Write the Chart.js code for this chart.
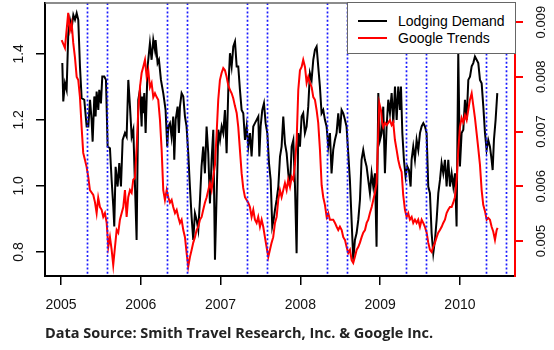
<!DOCTYPE html>
<html>
<head>
<meta charset="utf-8">
<script src="https://cdn.jsdelivr.net/npm/chart.js@4.4.0/dist/chart.umd.min.js"></script>
<style>
  body { margin: 0; background: #fff; }
  #wrap { position: relative; width: 554px; height: 350px; }
  #legend { position: absolute; left: 347px; top: 2px; width: 167px; height: 50px; background: #fff; border: 1px solid #666; font: 14px "Liberation Sans", Arial, sans-serif; color: #000; }
  #legend .swatch { position: absolute; left: 10px; width: 29px; height: 2px; }
  #legend .label { position: absolute; left: 50px; line-height: 16px; white-space: nowrap; }
  #caption { position: absolute; left: 45px; top: 324px; font: bold 14.5px "Open Sans", sans-serif; line-height: 18px; color: #222; white-space: nowrap; }
</style>
</head>
<body>
<div id="wrap">
  <canvas id="chart" width="554" height="350"></canvas>
  <div id="legend">
    <span class="swatch" style="top:17px;background:#000"></span><span class="label" style="top:10px">Lodging Demand</span>
    <span class="swatch" style="top:34px;background:#ff0000"></span><span class="label" style="top:27px">Google Trends</span>
  </div>
  <div id="caption">Data Source: Smith Travel Research, Inc. &amp; Google Inc.</div>
</div>
<script>
// Lodging demand (left axis), traced from the weekly series
const lodgingYears = [
  2005.017, 2005.029, 2005.050, 2005.071, 2005.092, 2005.113, 2005.134, 2005.155, 2005.176, 2005.197,
  2005.217, 2005.238, 2005.259, 2005.292, 2005.322, 2005.343, 2005.364, 2005.384, 2005.397, 2005.418,
  2005.434, 2005.447, 2005.468, 2005.480, 2005.501, 2005.518, 2005.543, 2005.564, 2005.585, 2005.614,
  2005.635, 2005.656, 2005.668, 2005.685, 2005.710, 2005.731, 2005.752, 2005.773, 2005.802, 2005.823,
  2005.844, 2005.865, 2005.886, 2005.907, 2005.928, 2005.948, 2005.969, 2005.990,
  2006.011, 2006.019, 2006.031, 2006.044, 2006.061, 2006.086, 2006.115, 2006.136, 2006.157, 2006.178,
  2006.186, 2006.211, 2006.228, 2006.253, 2006.282, 2006.311, 2006.332, 2006.345, 2006.366, 2006.386,
  2006.407, 2006.420, 2006.437, 2006.462, 2006.478, 2006.491, 2006.512, 2006.533, 2006.554, 2006.574,
  2006.595, 2006.616, 2006.637, 2006.658, 2006.679, 2006.700, 2006.721, 2006.742, 2006.762, 2006.783,
  2006.804, 2006.825, 2006.846, 2006.867, 2006.888, 2006.909, 2006.930, 2006.972, 2006.993,
  2007.014, 2007.034, 2007.055, 2007.076, 2007.097, 2007.118, 2007.139, 2007.160, 2007.181, 2007.202,
  2007.222, 2007.243, 2007.264, 2007.285, 2007.306, 2007.327, 2007.348, 2007.369, 2007.389, 2007.410,
  2007.431, 2007.452, 2007.473, 2007.486, 2007.502, 2007.523, 2007.544, 2007.565, 2007.586, 2007.607,
  2007.628, 2007.648, 2007.665, 2007.682, 2007.703, 2007.724, 2007.745, 2007.765, 2007.786, 2007.807,
  2007.828, 2007.849, 2007.870, 2007.891, 2007.912, 2007.933, 2007.953, 2007.974, 2007.995,
  2008.016, 2008.036, 2008.057, 2008.078, 2008.099, 2008.120, 2008.141, 2008.162, 2008.183, 2008.204,
  2008.224, 2008.245, 2008.266, 2008.287, 2008.308, 2008.329, 2008.350, 2008.371, 2008.391, 2008.412,
  2008.433, 2008.454, 2008.475, 2008.496, 2008.517, 2008.538, 2008.559, 2008.579, 2008.600, 2008.621,
  2008.642, 2008.663, 2008.684, 2008.705, 2008.726, 2008.747, 2008.767, 2008.788, 2008.809, 2008.830,
  2008.851, 2008.872, 2008.893, 2008.914, 2008.935, 2008.955, 2008.977, 2008.998,
  2009.019, 2009.039, 2009.060, 2009.081, 2009.102, 2009.123, 2009.144, 2009.165, 2009.186, 2009.207,
  2009.227, 2009.248, 2009.261, 2009.278, 2009.298, 2009.319, 2009.340, 2009.361, 2009.382, 2009.394,
  2009.415, 2009.436, 2009.457, 2009.478, 2009.499, 2009.520, 2009.541, 2009.562, 2009.582, 2009.603,
  2009.624, 2009.645, 2009.666, 2009.687, 2009.708, 2009.729, 2009.750, 2009.770, 2009.791, 2009.812,
  2009.833, 2009.854, 2009.875, 2009.896, 2009.917, 2009.938, 2009.958, 2009.979,
  2010.000, 2010.021, 2010.042, 2010.063, 2010.084, 2010.105, 2010.126, 2010.147, 2010.167, 2010.188,
  2010.209, 2010.230, 2010.251, 2010.272, 2010.293, 2010.314, 2010.334, 2010.355, 2010.376, 2010.397,
  2010.410, 2010.426, 2010.447, 2010.468
];
const lodgingValues = [
  1.372, 1.256, 1.311, 1.291, 1.463, 1.503, 1.478, 1.518, 1.503, 1.523,
  1.503, 1.362, 1.266, 1.261, 1.180, 1.180, 1.261, 1.200, 1.134, 1.271,
  1.210, 1.286, 1.230, 1.291, 1.250, 1.331, 1.331, 1.321, 1.119, 1.114,
  1.018, 0.937, 0.877, 1.058, 0.998, 1.069, 0.998, 1.139, 1.160, 1.149,
  1.321, 1.240, 1.149, 1.170, 0.998, 0.836, 1.261, 1.291,
  1.180, 1.271, 1.220, 1.281, 1.160, 1.362, 1.432, 1.382, 1.442, 1.412,
  1.442, 1.372, 1.382, 1.321, 1.281, 1.230, 1.119, 1.180, 1.190, 1.149,
  1.210, 1.079, 1.200, 1.240, 1.160, 1.240, 1.281, 1.271, 1.210, 1.180,
  1.099, 0.998, 0.907, 0.836, 0.917, 0.897, 0.867, 0.958, 1.059, 1.119,
  1.038, 1.180, 1.099, 0.947, 1.079, 1.170, 0.776, 1.170, 1.139,
  1.180, 1.160, 1.230, 1.099, 1.291, 1.402, 1.362, 1.422, 1.437, 1.362,
  1.362, 1.291, 1.230, 1.220, 1.139, 1.180, 1.119, 1.160, 1.089, 1.180,
  1.190, 1.200, 1.210, 1.089, 1.180, 1.230, 1.250, 1.190, 1.160, 1.069,
  1.018, 0.877, 0.897, 0.927, 0.958, 0.998, 1.089, 1.119, 1.210, 1.129,
  1.099, 1.038, 0.998, 1.119, 1.139, 0.998, 0.796, 1.160, 1.119,
  1.210, 1.220, 1.160, 1.180, 1.240, 1.341, 1.321, 1.382, 1.412, 1.422,
  1.362, 1.301, 1.220, 1.230, 1.200, 1.180, 1.119, 1.160, 1.038, 1.109,
  1.139, 1.160, 1.220, 1.160, 1.230, 1.220, 1.200, 1.180, 1.099, 1.018,
  0.897, 0.776, 0.836, 0.857, 0.897, 0.958, 1.079, 1.109, 1.079, 1.059,
  1.018, 0.978, 1.038, 0.998, 1.038, 0.816, 1.281, 1.139,
  1.160, 1.240, 1.038, 1.180, 1.261, 1.220, 1.281, 1.190, 1.301, 1.200,
  1.301, 1.230, 1.301, 1.160, 1.079, 1.028, 1.059, 1.048, 0.998, 1.079,
  1.119, 1.079, 1.139, 1.109, 1.160, 1.180, 1.190, 1.180, 1.160, 0.998,
  0.978, 0.857, 0.796, 0.836, 0.897, 0.978, 1.018, 1.069, 1.038, 1.079,
  0.998, 1.079, 0.998, 1.038, 0.998, 1.038, 0.877, 1.403,
  1.059, 1.160, 1.170, 1.261, 1.200, 1.321, 1.331, 1.362, 1.372, 1.392,
  1.382, 1.372, 1.321, 1.311, 1.240, 1.160, 1.109, 1.139, 1.119, 1.079,
  1.048, 1.139, 1.200, 1.281
];

// Google Trends (right axis)
const googleYears = [
  2005.009, 2005.050, 2005.091, 2005.113, 2005.134, 2005.154, 2005.175, 2005.197, 2005.217, 2005.238,
  2005.259, 2005.279, 2005.301, 2005.322, 2005.342, 2005.363, 2005.405, 2005.426, 2005.447, 2005.467,
  2005.489, 2005.510, 2005.530, 2005.551, 2005.573, 2005.593, 2005.614, 2005.635, 2005.655, 2005.677,
  2005.698, 2005.718, 2005.739, 2005.761, 2005.781, 2005.802, 2005.823, 2005.843, 2005.865, 2005.886,
  2005.906, 2005.927, 2005.949, 2005.969, 2005.990,
  2006.011, 2006.031, 2006.053, 2006.074, 2006.094, 2006.115, 2006.136, 2006.157, 2006.178, 2006.199,
  2006.219, 2006.241, 2006.262, 2006.282, 2006.303, 2006.325, 2006.345, 2006.366, 2006.387, 2006.407,
  2006.429, 2006.450, 2006.470, 2006.491, 2006.512, 2006.533, 2006.554, 2006.575, 2006.595, 2006.617,
  2006.638, 2006.658, 2006.679, 2006.700, 2006.721, 2006.742, 2006.763, 2006.783, 2006.804, 2006.826,
  2006.846, 2006.867, 2006.888, 2006.908, 2006.930, 2006.951, 2006.971, 2006.992,
  2007.013, 2007.034, 2007.055, 2007.076, 2007.096, 2007.118, 2007.139, 2007.159, 2007.180, 2007.202,
  2007.222, 2007.243, 2007.264, 2007.284, 2007.306, 2007.327, 2007.347, 2007.368, 2007.389, 2007.410,
  2007.431, 2007.452, 2007.472, 2007.494, 2007.515, 2007.535, 2007.556, 2007.577, 2007.598, 2007.619,
  2007.640, 2007.660, 2007.682, 2007.703, 2007.723, 2007.744, 2007.765, 2007.786, 2007.807, 2007.828,
  2007.848, 2007.870, 2007.891, 2007.911, 2007.932, 2007.954, 2007.974, 2007.995,
  2008.016, 2008.036, 2008.058, 2008.079, 2008.099, 2008.120, 2008.142, 2008.162, 2008.183, 2008.204,
  2008.224, 2008.246, 2008.267, 2008.287, 2008.308, 2008.330, 2008.350, 2008.371, 2008.412, 2008.434,
  2008.455, 2008.475, 2008.496, 2008.518, 2008.538, 2008.559, 2008.580, 2008.600, 2008.622, 2008.643,
  2008.663, 2008.684, 2008.706, 2008.726, 2008.747, 2008.768, 2008.788, 2008.810, 2008.831, 2008.851,
  2008.872, 2008.894, 2008.914, 2008.935, 2008.956, 2008.976, 2008.989,
  2009.010, 2009.026, 2009.039, 2009.060, 2009.081, 2009.101, 2009.123, 2009.144, 2009.164, 2009.185,
  2009.207, 2009.227, 2009.248, 2009.269, 2009.289, 2009.311, 2009.332, 2009.352, 2009.373, 2009.395,
  2009.415, 2009.436, 2009.457, 2009.477, 2009.499, 2009.520, 2009.540, 2009.561, 2009.583, 2009.603,
  2009.624, 2009.645, 2009.665, 2009.687, 2009.708, 2009.728, 2009.749, 2009.771, 2009.791, 2009.812,
  2009.833, 2009.853, 2009.875, 2009.896, 2009.916, 2009.937, 2009.959, 2009.979,
  2010.000, 2010.021, 2010.041, 2010.063, 2010.084, 2010.104, 2010.125, 2010.147, 2010.167, 2010.188,
  2010.209, 2010.229, 2010.251, 2010.272, 2010.292, 2010.313, 2010.335, 2010.355, 2010.376, 2010.397,
  2010.418, 2010.439, 2010.460, 2010.472
];
const googleValues = [
  0.00867, 0.00853, 0.00917, 0.00885, 0.00898, 0.00862, 0.00836, 0.00800, 0.00794, 0.00763,
  0.00708, 0.00661, 0.00648, 0.00635, 0.00617, 0.00593, 0.00584, 0.00571, 0.00551, 0.00579,
  0.00562, 0.00557, 0.00544, 0.00551, 0.00533, 0.00489, 0.00507, 0.00484, 0.00456, 0.00489,
  0.00520, 0.00515, 0.00539, 0.00551, 0.00562, 0.00593, 0.00544, 0.00580, 0.00593, 0.00588,
  0.00612, 0.00615, 0.00672, 0.00739, 0.00781,
  0.00807, 0.00818, 0.00831, 0.00800, 0.00812, 0.00781, 0.00789, 0.00763, 0.00770, 0.00763,
  0.00758, 0.00721, 0.00666, 0.00593, 0.00575, 0.00593, 0.00580, 0.00570, 0.00575, 0.00562,
  0.00551, 0.00557, 0.00544, 0.00533, 0.00539, 0.00520, 0.00507, 0.00478, 0.00453, 0.00471,
  0.00484, 0.00497, 0.00507, 0.00520, 0.00526, 0.00539, 0.00544, 0.00557, 0.00570, 0.00580,
  0.00593, 0.00606, 0.00593, 0.00617, 0.00639, 0.00697, 0.00758, 0.00794,
  0.00807, 0.00816, 0.00812, 0.00800, 0.00785, 0.00776, 0.00770, 0.00761, 0.00747, 0.00734,
  0.00708, 0.00666, 0.00624, 0.00597, 0.00580, 0.00575, 0.00570, 0.00562, 0.00544, 0.00557,
  0.00539, 0.00533, 0.00544, 0.00526, 0.00539, 0.00526, 0.00507, 0.00489, 0.00471, 0.00484,
  0.00497, 0.00507, 0.00533, 0.00544, 0.00575, 0.00593, 0.00580, 0.00593, 0.00606, 0.00593,
  0.00612, 0.00599, 0.00617, 0.00612, 0.00639, 0.00685, 0.00776, 0.00812,
  0.00818, 0.00831, 0.00818, 0.00789, 0.00800, 0.00789, 0.00781, 0.00763, 0.00758, 0.00739,
  0.00716, 0.00666, 0.00602, 0.00580, 0.00566, 0.00544, 0.00551, 0.00539, 0.00539, 0.00533,
  0.00526, 0.00520, 0.00526, 0.00520, 0.00507, 0.00502, 0.00489, 0.00478, 0.00484, 0.00465,
  0.00460, 0.00471, 0.00484, 0.00489, 0.00497, 0.00507, 0.00515, 0.00520, 0.00533, 0.00539,
  0.00551, 0.00562, 0.00575, 0.00588, 0.00606, 0.00697, 0.00752,
  0.00739, 0.00716, 0.00708, 0.00716, 0.00712, 0.00716, 0.00721, 0.00712, 0.00717, 0.00685,
  0.00666, 0.00648, 0.00635, 0.00626, 0.00584, 0.00557, 0.00544, 0.00551, 0.00539, 0.00544,
  0.00533, 0.00539, 0.00533, 0.00539, 0.00526, 0.00539, 0.00533, 0.00526, 0.00515, 0.00497,
  0.00484, 0.00480, 0.00489, 0.00497, 0.00507, 0.00515, 0.00520, 0.00526, 0.00533, 0.00539,
  0.00551, 0.00557, 0.00562, 0.00562, 0.00570, 0.00580, 0.00612, 0.00666,
  0.00708, 0.00725, 0.00717, 0.00730, 0.00721, 0.00739, 0.00758, 0.00770, 0.00748, 0.00725,
  0.00697, 0.00670, 0.00639, 0.00593, 0.00566, 0.00555, 0.00539, 0.00542, 0.00539, 0.00526,
  0.00517, 0.00502, 0.00520, 0.00524
];

const yearTicks = [2005, 2006, 2007, 2008, 2009, 2010];
const demandTicks = [0.8, 1.0, 1.2, 1.4];
const trendTicks = [0.005, 0.006, 0.007, 0.008, 0.009];
// dotted markers, roughly 1 May and 1 Aug each year
const seasonMarks = [2005.33, 2005.58, 2006.33, 2006.58, 2007.33, 2007.58, 2008.33, 2008.58, 2009.33, 2009.58, 2010.33, 2010.58];

const axisFont = '"Liberation Sans", Arial, sans-serif';

const frame = {
    id: 'frame',
    afterDatasetsDraw(chart) {
        const { ctx, chartArea: a, scales } = chart;
        ctx.save();
        ctx.strokeStyle = '#1a1aff';
        ctx.lineWidth = 1.7;
        ctx.setLineDash([2, 2.2]);
        seasonMarks.forEach(v => {
            const px = Math.round(scales.x.getPixelForValue(v)) + 0.5;
            ctx.beginPath();
            ctx.moveTo(px, a.top);
            ctx.lineTo(px, a.bottom);
            ctx.stroke();
        });
        ctx.restore();
    },
    afterDraw(chart) {
        const { ctx, chartArea: a, scales } = chart;
        ctx.save();
        // top edge of the box
        ctx.strokeStyle = '#666';
        ctx.lineWidth = 1.5;
        ctx.beginPath();
        ctx.moveTo(a.left, a.top);
        ctx.lineTo(a.right, a.top);
        ctx.stroke();

        // rotated tick labels, R style
        ctx.fillStyle = '#111';
        ctx.textAlign = 'center';
        ctx.textBaseline = 'middle';
        ctx.font = '14px ' + axisFont;
        demandTicks.forEach(v => {
            ctx.save();
            ctx.translate(a.left - 26, scales.y.getPixelForValue(v));
            ctx.rotate(-Math.PI / 2);
            ctx.fillText(v.toFixed(1), 0, 0);
            ctx.restore();
        });
        ctx.font = '13px ' + axisFont;
        trendTicks.forEach(v => {
            ctx.save();
            ctx.translate(a.right + 26, scales.y2.getPixelForValue(v));
            ctx.rotate(-Math.PI / 2);
            ctx.fillText(v.toFixed(3), 0, 0);
            ctx.restore();
        });
        ctx.restore();
    }
};

const ctx = document.getElementById('chart').getContext('2d');
new Chart(ctx, {
    type: 'line',
    data: {
        datasets: [{
            label: 'Lodging Demand',
            data: lodgingYears.map((x, i) => ({ x: x, y: lodgingValues[i] })),
            yAxisID: 'y',
            borderColor: '#000',
            borderWidth: 2,
            pointRadius: 0,
            tension: 0,
            order: 2
        }, {
            label: 'Google Trends',
            data: googleYears.map((x, i) => ({ x: x, y: googleValues[i] })),
            yAxisID: 'y2',
            borderColor: '#ff0000',
            borderWidth: 2,
            pointRadius: 0,
            tension: 0,
            order: 1
        }]
    },
    options: {
        responsive: false,
        animation: false,
        events: [],
        layout: { padding: { top: 3 } },
        plugins: {
            legend: { display: false },
            tooltip: { enabled: false }
        },
        scales: {
            x: {
                type: 'linear',
                bounds: 'data',
                min: 2004.8,
                max: 2010.69,
                afterBuildTicks: s => { s.ticks = yearTicks.map(v => ({ value: v })); },
                afterFit: s => { s.height = 74; },
                grid: { drawOnChartArea: false, tickLength: 9, color: '#000', lineWidth: 1.5 },
                border: { color: '#000', width: 2 },
                ticks: {
                    padding: 12,
                    autoSkip: false,
                    maxRotation: 0,
                    color: '#111',
                    font: { family: axisFont, size: 14 },
                    callback: v => String(v)
                }
            },
            y: {
                position: 'left',
                bounds: 'data',
                min: 0.727,
                max: 1.554,
                afterBuildTicks: s => { s.ticks = demandTicks.map(v => ({ value: v })); },
                afterFit: s => { s.width = 45; },
                grid: { drawOnChartArea: false, tickLength: 9, color: '#000', lineWidth: 1.5 },
                border: { color: '#000', width: 2 },
                ticks: { display: false }
            },
            y2: {
                position: 'right',
                bounds: 'data',
                min: 0.00436,
                max: 0.00935,
                afterBuildTicks: s => { s.ticks = trendTicks.map(v => ({ value: v })); },
                afterFit: s => { s.width = 39; },
                grid: { drawOnChartArea: false, tickLength: 8, color: '#ff0000', lineWidth: 2 },
                border: { color: '#ff0000', width: 2 },
                ticks: { display: false }
            }
        }
    },
    plugins: [frame]
});
</script>
</body>
</html>
